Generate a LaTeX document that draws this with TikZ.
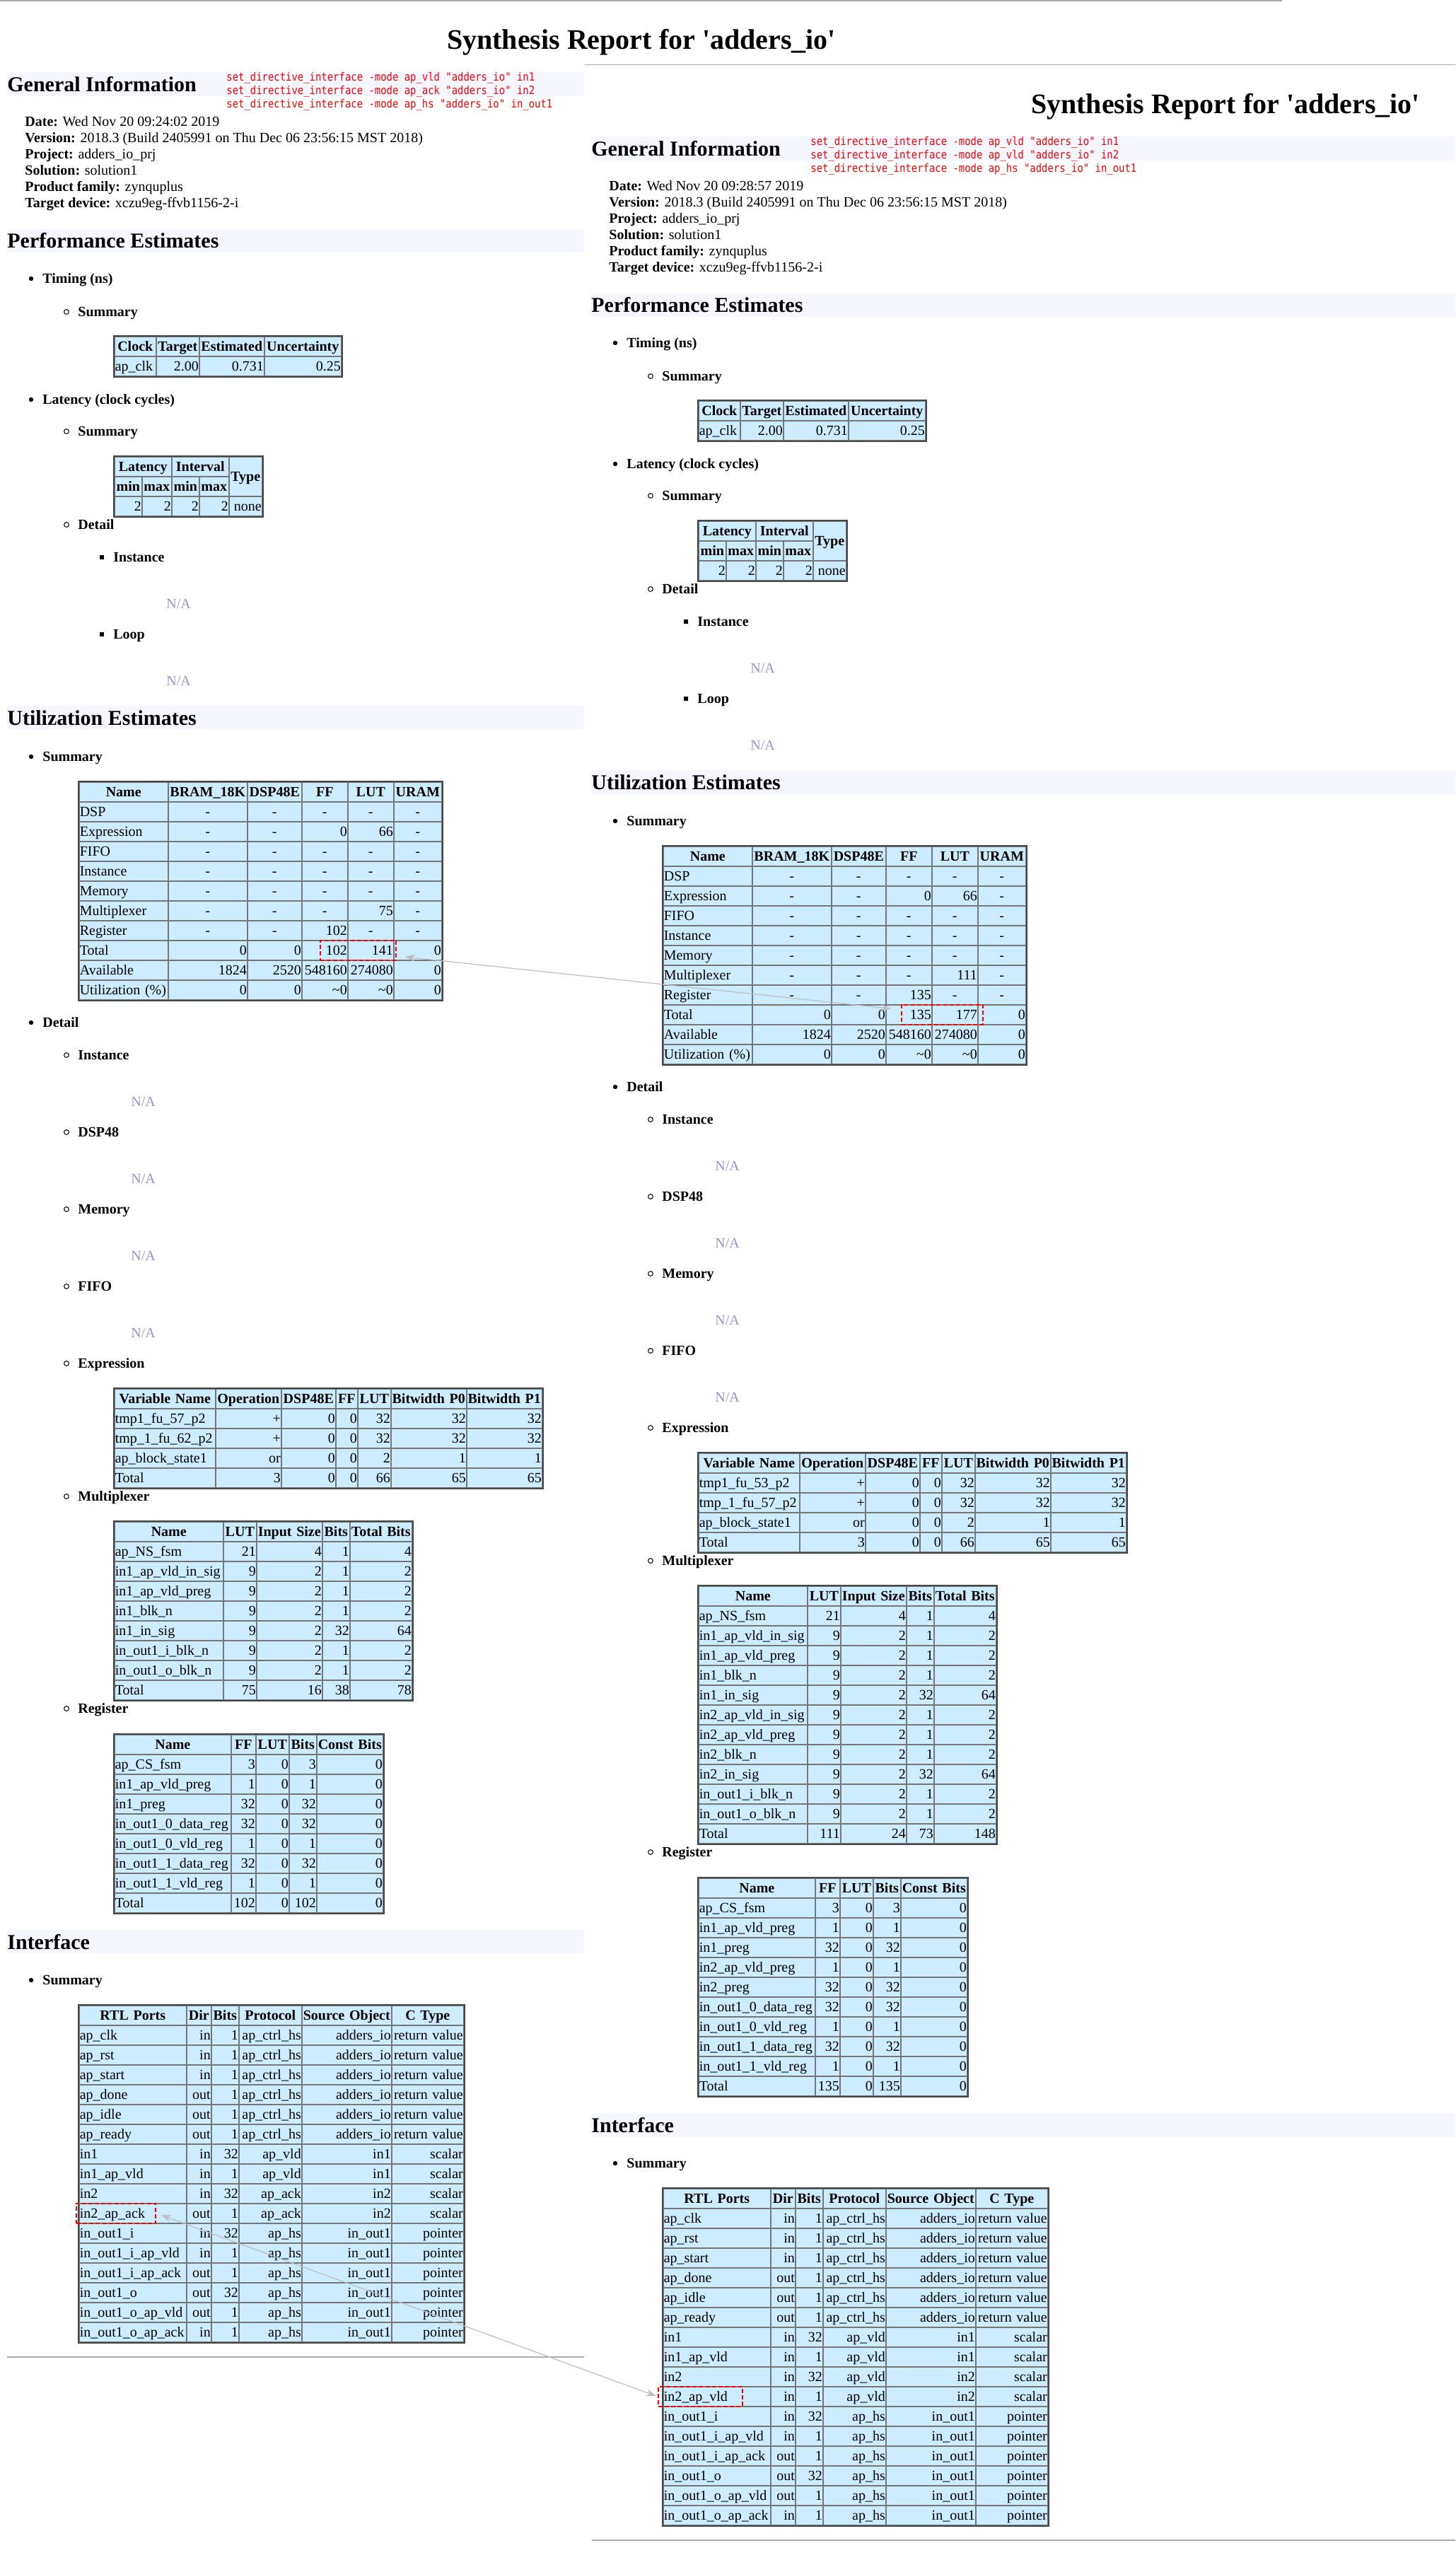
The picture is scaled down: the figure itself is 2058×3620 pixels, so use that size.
\documentclass[tikz,border=0pt]{standalone}
\usepackage{fontspec}
\setmainfont{Liberation Serif}
\newfontfamily\dirfont{DejaVu Sans Mono}[FakeStretch=0.87]
\usetikzlibrary{matrix,fit,arrows.meta}

\definecolor{cellfill}{RGB}{204,236,255}
\definecolor{cellline}{RGB}{118,118,118}
\definecolor{frameline}{RGB}{70,70,70}
\definecolor{bandfill}{RGB}{245,246,255}
\definecolor{nagray}{RGB}{150,150,205}
\definecolor{rulegray}{RGB}{172,172,172}
\definecolor{linkgray}{RGB}{190,190,190}

\tikzset{cw/.style={nodes={text width=#1}},
  lcw/.style={nodes={text width=#1,align=left}},
  utilcols/.style={column 1/.style={lcw=62pt},column 2/.style={cw=55pt},column 3/.style={cw=37.5pt},
    column 4/.style={cw=31.5pt},column 5/.style={cw=31.5pt},column 6/.style={cw=33pt}},
  exprcols/.style={column 1/.style={lcw=70.5pt},column 2/.style={cw=45.5pt},column 3/.style={cw=37.5pt},
    column 4/.style={cw=14.5pt},column 5/.style={cw=22.5pt},column 6/.style={cw=52.5pt},column 7/.style={cw=52.5pt}},
  muxcols/.style={column 1/.style={lcw=76pt},column 2/.style={cw=22.5pt},column 3/.style={cw=45.5pt},
    column 4/.style={cw=18.5pt},column 5/.style={cw=43pt}},
  regcols/.style={column 1/.style={lcw=81.5pt},column 2/.style={cw=16.5pt},column 3/.style={cw=22.5pt},
    column 4/.style={cw=18.5pt},column 5/.style={cw=46pt}},
  intfcols/.style={column 1/.style={lcw=75pt},column 2/.style={cw=16.5pt},column 3/.style={cw=18.5pt},
    column 4/.style={cw=43.5pt},column 5/.style={cw=62.5pt},column 6/.style={cw=50pt}}}

% bullet style, name, text x, baseline y, label
\newcommand\repitem[5]{%
  \node[#1] (#2m) at (#3-16,#4-6) {};
  \node[lbl] (#2) at (#3,#4) {#5};}
\newcommand\dsh{\makebox[\linewidth]{-}}

\newcommand\geninfo[2]{%
  \foreach \lab/\val [count=\n] in {Date:/#2,
      Version:/2018.3 (Build 2405991 on Thu Dec 06 23:56:15 MST 2018),
      Project:/adders\_io\_prj, Solution:/solution1,
      Product family:/zynquplus, Target device:/xczu9eg-ffvb1156-2-i}
    \node[txt] (#1info\n) at (35,155+23*\n) {\textbf{\lab} \val};}

\newcommand\perfpart[1]{%
  \fill[bandfill] (10,324) rectangle (1803,357);
  \node[sechead] (#1pe) at (10,350) {Performance Estimates};
  \repitem{bdot}{#1ptim}{60}{400}{Timing (ns)}
  \repitem{bring}{#1ptsum}{110}{447}{Summary}
  \matrix[tbl,ampersand replacement=\&,column 1/.style={lcw=28.5pt},column 2/.style={cw=29.5pt},
    column 3/.style={cw=45pt},column 4/.style={cw=53.5pt}] (#1tim) at (161,475) {
    Clock \& Target \& Estimated \& Uncertainty\\
    ap\_clk \& 2.00 \& 0.731 \& 0.25\\
  };
  \draw[tabframe] (#1tim.north west) rectangle (#1tim.south east);
  \repitem{bdot}{#1plat}{60}{571}{Latency (clock cycles)}
  \repitem{bring}{#1plsum}{110}{616}{Summary}
  \matrix[tbl,ampersand replacement=\&,row 2/.style={nodes={font=\bfseries,align=center}},
    column 1/.style={cw=18.5pt},column 2/.style={cw=20pt},column 3/.style={cw=18.5pt},
    column 4/.style={cw=20pt},column 5/.style={cw=22.5pt}] (#1lat) at (161,645) {
    \& \& \& \& \\
    min \& max \& min \& max \& \\
    2 \& 2 \& 2 \& 2 \& none\\
  };
  \node[spancell,minimum width=40.5pt] (#1latL) at (#1lat-1-1.north west) {Latency};
  \node[spancell,minimum width=40.5pt] (#1latI) at (#1lat-1-3.north west) {Interval};
  \node[spancell,minimum width=23.5pt,minimum height=28pt] (#1latT) at (#1lat-1-5.north west) {Type};
  \draw[tabframe] (#1lat.north west) rectangle (#1lat.south east);
  \repitem{bring}{#1pdet}{110}{748}{Detail}
  \foreach \s/\y in {Instance/794,Loop/903}{%
    \repitem{bsq}{#1p\s}{160}{\y}{\s}
    \node[natext] (#1p\s-na) at (235,\y+66) {N/A};}}

\newcommand\utildetail[1]{%
  \repitem{bdot}{#1udet}{60}{1452}{Detail}
  \foreach \s/\y in {Instance/1498,DSP48/1607,Memory/1716,FIFO/1825}{%
    \repitem{bring}{#1u\s}{110}{\y}{\s}
    \node[natext] (#1u\s-na) at (185,\y+66) {N/A};}
  \repitem{bring}{#1uexpr}{110}{1934}{Expression}}

\begin{document}
\begin{tikzpicture}[x=0.5pt,y=-0.5pt]
\tikzstyle{txt}=[anchor=base west,inner sep=0pt]
\tikzstyle{lbl}=[txt,font=\bfseries]
\tikzstyle{sechead}=[txt,font=\fontsize{15}{18}\selectfont\bfseries]
\tikzstyle{reptitle}=[anchor=base,inner sep=0pt,font=\fontsize{20}{24}\selectfont\bfseries]
\tikzstyle{directive}=[txt,text=red,font=\dirfont\fontsize{8}{9}\selectfont]
\tikzstyle{natext}=[txt,text=nagray]
\tikzstyle{bdot}=[circle,fill,inner sep=0pt,minimum size=3.2pt]
\tikzstyle{bring}=[circle,draw,line width=0.5pt,inner sep=0pt,minimum size=3.4pt]
\tikzstyle{bsq}=[rectangle,fill,inner sep=0pt,minimum size=3.4pt]
\tikzstyle{tcell}=[draw=cellline,fill=cellfill,line width=0.8pt,inner xsep=0.5pt,inner ysep=0pt,
  outer sep=0pt,minimum height=14pt,text height=8pt,text depth=1.6pt,align=right]
\tikzstyle{tbl}=[matrix of nodes,nodes in empty cells,anchor=north west,inner sep=0pt,outer sep=0pt,
  row sep=-0.8pt,column sep=-0.8pt,nodes={tcell},row 1/.style={nodes={font=\bfseries,align=center}}]
\tikzstyle{spancell}=[tcell,inner sep=0pt,font=\bfseries,align=center,anchor=north west]
\tikzstyle{tabframe}=[draw=frameline,line width=1pt]
\tikzstyle{redbox}=[draw=red,dash pattern=on 3pt off 1.6pt,line width=1pt,inner sep=0pt]
\tikzstyle{link}=[draw=linkgray,line width=0.6pt,>={Stealth[length=7pt,width=5pt]},<->]
\tikzstyle{hrule}=[draw=rulegray,line width=0.6pt]

\useasboundingbox (0,0) rectangle (2058,3620);
\clip (0,0) rectangle (2058,3620);
\fill[white] (0,0) rectangle (2058,3620);

% ---- first report (in2 as ap_ack)
\draw[hrule] (0,1) -- (1813,1);
\node[reptitle] (ltitle) at (907,69) {Synthesis Report for \textquotesingle adders\_io\textquotesingle};
\fill[bandfill] (10,102) rectangle (1803,136);
\node[sechead] (lgi) at (10,129) {General Information};
\node[directive] (ldir1) at (320,114) {set\_directive\_interface -mode ap\_vld "adders\_io" in1};
\node[directive] (ldir2) at (320,133) {set\_directive\_interface -mode ap\_ack "adders\_io" in2};
\node[directive] (ldir3) at (320,152) {set\_directive\_interface -mode ap\_hs "adders\_io" in\_out1};
\geninfo{l}{Wed Nov 20 09:24:02 2019}
\perfpart{l}
\fill[bandfill] (10,998) rectangle (1803,1032);
\node[sechead] (lue) at (10,1025) {Utilization Estimates};
\repitem{bdot}{lusum}{60}{1076}{Summary}
\matrix[tbl,utilcols] (lutil) at (111,1105) {
Name & BRAM\_18K & DSP48E & FF & LUT & URAM\\
DSP & \dsh & \dsh & \dsh & \dsh & \dsh\\
Expression & \dsh & \dsh & 0 & 66 & \dsh\\
FIFO & \dsh & \dsh & \dsh & \dsh & \dsh\\
Instance & \dsh & \dsh & \dsh & \dsh & \dsh\\
Memory & \dsh & \dsh & \dsh & \dsh & \dsh\\
Multiplexer & \dsh & \dsh & \dsh & 75 & \dsh\\
Register & \dsh & \dsh & 102 & \dsh & \dsh\\
Total & 0 & 0 & 102 & 141 & 0\\
Available & 1824 & 2520 & 548160 & 274080 & 0\\
Utilization~(\%) & 0 & 0 & \textasciitilde0 & \textasciitilde0 & 0\\
};
\draw[tabframe] (lutil.north west) rectangle (lutil.south east);
\utildetail{l}
\matrix[tbl,exprcols] (lexpr) at (161,1963) {
Variable~Name & Operation & DSP48E & FF & LUT & Bitwidth~P0 & Bitwidth~P1\\
tmp1\_fu\_57\_p2 & + & 0 & 0 & 32 & 32 & 32\\
tmp\_1\_fu\_62\_p2 & + & 0 & 0 & 32 & 32 & 32\\
ap\_block\_state1 & or & 0 & 0 & 2 & 1 & 1\\
Total & 3 & 0 & 0 & 66 & 65 & 65\\
};
\draw[tabframe] (lexpr.north west) rectangle (lexpr.south east);
\repitem{bring}{lmuxl}{110}{2122}{Multiplexer}
\matrix[tbl,muxcols] (lmux) at (161,2151) {
Name & LUT & Input~Size & Bits & Total~Bits\\
ap\_NS\_fsm & 21 & 4 & 1 & 4\\
in1\_ap\_vld\_in\_sig & 9 & 2 & 1 & 2\\
in1\_ap\_vld\_preg & 9 & 2 & 1 & 2\\
in1\_blk\_n & 9 & 2 & 1 & 2\\
in1\_in\_sig & 9 & 2 & 32 & 64\\
in\_out1\_i\_blk\_n & 9 & 2 & 1 & 2\\
in\_out1\_o\_blk\_n & 9 & 2 & 1 & 2\\
Total & 75 & 16 & 38 & 78\\
};
\draw[tabframe] (lmux.north west) rectangle (lmux.south east);
\repitem{bring}{lregl}{110}{2422}{Register}
\matrix[tbl,regcols] (lreg) at (161,2452) {
Name & FF & LUT & Bits & Const~Bits\\
ap\_CS\_fsm & 3 & 0 & 3 & 0\\
in1\_ap\_vld\_preg & 1 & 0 & 1 & 0\\
in1\_preg & 32 & 0 & 32 & 0\\
in\_out1\_0\_data\_reg & 32 & 0 & 32 & 0\\
in\_out1\_0\_vld\_reg & 1 & 0 & 1 & 0\\
in\_out1\_1\_data\_reg & 32 & 0 & 32 & 0\\
in\_out1\_1\_vld\_reg & 1 & 0 & 1 & 0\\
Total & 102 & 0 & 102 & 0\\
};
\draw[tabframe] (lreg.north west) rectangle (lreg.south east);
\fill[bandfill] (10,2729) rectangle (1803,2763);
\node[sechead] (lif) at (10,2756) {Interface};
\repitem{bdot}{lisum}{60}{2806}{Summary}
\matrix[tbl,intfcols] (lintf) at (111,2835) {
RTL~Ports & Dir & Bits & Protocol & Source~Object & C~Type\\
ap\_clk & in & 1 & ap\_ctrl\_hs & adders\_io & return~value\\
ap\_rst & in & 1 & ap\_ctrl\_hs & adders\_io & return~value\\
ap\_start & in & 1 & ap\_ctrl\_hs & adders\_io & return~value\\
ap\_done & out & 1 & ap\_ctrl\_hs & adders\_io & return~value\\
ap\_idle & out & 1 & ap\_ctrl\_hs & adders\_io & return~value\\
ap\_ready & out & 1 & ap\_ctrl\_hs & adders\_io & return~value\\
in1 & in & 32 & ap\_vld & in1 & scalar\\
in1\_ap\_vld & in & 1 & ap\_vld & in1 & scalar\\
in2 & in & 32 & ap\_ack & in2 & scalar\\
in2\_ap\_ack & out & 1 & ap\_ack & in2 & scalar\\
in\_out1\_i & in & 32 & ap\_hs & in\_out1 & pointer\\
in\_out1\_i\_ap\_vld & in & 1 & ap\_hs & in\_out1 & pointer\\
in\_out1\_i\_ap\_ack & out & 1 & ap\_hs & in\_out1 & pointer\\
in\_out1\_o & out & 32 & ap\_hs & in\_out1 & pointer\\
in\_out1\_o\_ap\_vld & out & 1 & ap\_hs & in\_out1 & pointer\\
in\_out1\_o\_ap\_ack & in & 1 & ap\_hs & in\_out1 & pointer\\
};
\draw[tabframe] (lintf.north west) rectangle (lintf.south east);
\draw[hrule] (10,3333) -- (1803,3333);

% ---- second report (in2 as ap_vld), laid over the first
\begin{scope}[shift={(826,91)}]
\fill[white] (0,-3) rectangle (1300,3600);
\draw[hrule] (1,0.5) -- (1813,0.5);
\node[reptitle] (rtitle) at (907,69) {Synthesis Report for \textquotesingle adders\_io\textquotesingle};
\fill[bandfill] (10,102) rectangle (1803,136);
\node[sechead] (rgi) at (10,129) {General Information};
\node[directive] (rdir1) at (320,114) {set\_directive\_interface -mode ap\_vld "adders\_io" in1};
\node[directive] (rdir2) at (320,133) {set\_directive\_interface -mode ap\_vld "adders\_io" in2};
\node[directive] (rdir3) at (320,152) {set\_directive\_interface -mode ap\_hs "adders\_io" in\_out1};
\geninfo{r}{Wed Nov 20 09:28:57 2019}
\perfpart{r}
\fill[bandfill] (10,998) rectangle (1803,1032);
\node[sechead] (rue) at (10,1025) {Utilization Estimates};
\repitem{bdot}{rusum}{60}{1076}{Summary}
\matrix[tbl,utilcols] (rutil) at (111,1105) {
Name & BRAM\_18K & DSP48E & FF & LUT & URAM\\
DSP & \dsh & \dsh & \dsh & \dsh & \dsh\\
Expression & \dsh & \dsh & 0 & 66 & \dsh\\
FIFO & \dsh & \dsh & \dsh & \dsh & \dsh\\
Instance & \dsh & \dsh & \dsh & \dsh & \dsh\\
Memory & \dsh & \dsh & \dsh & \dsh & \dsh\\
Multiplexer & \dsh & \dsh & \dsh & 111 & \dsh\\
Register & \dsh & \dsh & 135 & \dsh & \dsh\\
Total & 0 & 0 & 135 & 177 & 0\\
Available & 1824 & 2520 & 548160 & 274080 & 0\\
Utilization~(\%) & 0 & 0 & \textasciitilde0 & \textasciitilde0 & 0\\
};
\draw[tabframe] (rutil.north west) rectangle (rutil.south east);
\utildetail{r}
\matrix[tbl,exprcols] (rexpr) at (161,1963) {
Variable~Name & Operation & DSP48E & FF & LUT & Bitwidth~P0 & Bitwidth~P1\\
tmp1\_fu\_53\_p2 & + & 0 & 0 & 32 & 32 & 32\\
tmp\_1\_fu\_57\_p2 & + & 0 & 0 & 32 & 32 & 32\\
ap\_block\_state1 & or & 0 & 0 & 2 & 1 & 1\\
Total & 3 & 0 & 0 & 66 & 65 & 65\\
};
\draw[tabframe] (rexpr.north west) rectangle (rexpr.south east);
\repitem{bring}{rmuxl}{110}{2122}{Multiplexer}
\matrix[tbl,muxcols] (rmux) at (161,2151) {
Name & LUT & Input~Size & Bits & Total~Bits\\
ap\_NS\_fsm & 21 & 4 & 1 & 4\\
in1\_ap\_vld\_in\_sig & 9 & 2 & 1 & 2\\
in1\_ap\_vld\_preg & 9 & 2 & 1 & 2\\
in1\_blk\_n & 9 & 2 & 1 & 2\\
in1\_in\_sig & 9 & 2 & 32 & 64\\
in2\_ap\_vld\_in\_sig & 9 & 2 & 1 & 2\\
in2\_ap\_vld\_preg & 9 & 2 & 1 & 2\\
in2\_blk\_n & 9 & 2 & 1 & 2\\
in2\_in\_sig & 9 & 2 & 32 & 64\\
in\_out1\_i\_blk\_n & 9 & 2 & 1 & 2\\
in\_out1\_o\_blk\_n & 9 & 2 & 1 & 2\\
Total & 111 & 24 & 73 & 148\\
};
\draw[tabframe] (rmux.north west) rectangle (rmux.south east);
\begin{scope}[shift={(0,112)}]
\repitem{bring}{rregl}{110}{2422}{Register}
\matrix[tbl,regcols] (rreg) at (161,2452) {
Name & FF & LUT & Bits & Const~Bits\\
ap\_CS\_fsm & 3 & 0 & 3 & 0\\
in1\_ap\_vld\_preg & 1 & 0 & 1 & 0\\
in1\_preg & 32 & 0 & 32 & 0\\
in2\_ap\_vld\_preg & 1 & 0 & 1 & 0\\
in2\_preg & 32 & 0 & 32 & 0\\
in\_out1\_0\_data\_reg & 32 & 0 & 32 & 0\\
in\_out1\_0\_vld\_reg & 1 & 0 & 1 & 0\\
in\_out1\_1\_data\_reg & 32 & 0 & 32 & 0\\
in\_out1\_1\_vld\_reg & 1 & 0 & 1 & 0\\
Total & 135 & 0 & 135 & 0\\
};
\draw[tabframe] (rreg.north west) rectangle (rreg.south east);
\end{scope}
\begin{scope}[shift={(0,168)}]
\fill[bandfill] (10,2729) rectangle (1803,2763);
\node[sechead] (rif) at (10,2756) {Interface};
\repitem{bdot}{risum}{60}{2806}{Summary}
\matrix[tbl,intfcols] (rintf) at (111,2835) {
RTL~Ports & Dir & Bits & Protocol & Source~Object & C~Type\\
ap\_clk & in & 1 & ap\_ctrl\_hs & adders\_io & return~value\\
ap\_rst & in & 1 & ap\_ctrl\_hs & adders\_io & return~value\\
ap\_start & in & 1 & ap\_ctrl\_hs & adders\_io & return~value\\
ap\_done & out & 1 & ap\_ctrl\_hs & adders\_io & return~value\\
ap\_idle & out & 1 & ap\_ctrl\_hs & adders\_io & return~value\\
ap\_ready & out & 1 & ap\_ctrl\_hs & adders\_io & return~value\\
in1 & in & 32 & ap\_vld & in1 & scalar\\
in1\_ap\_vld & in & 1 & ap\_vld & in1 & scalar\\
in2 & in & 32 & ap\_vld & in2 & scalar\\
in2\_ap\_vld & in & 1 & ap\_vld & in2 & scalar\\
in\_out1\_i & in & 32 & ap\_hs & in\_out1 & pointer\\
in\_out1\_i\_ap\_vld & in & 1 & ap\_hs & in\_out1 & pointer\\
in\_out1\_i\_ap\_ack & out & 1 & ap\_hs & in\_out1 & pointer\\
in\_out1\_o & out & 32 & ap\_hs & in\_out1 & pointer\\
in\_out1\_o\_ap\_vld & out & 1 & ap\_hs & in\_out1 & pointer\\
in\_out1\_o\_ap\_ack & in & 1 & ap\_hs & in\_out1 & pointer\\
};
\draw[tabframe] (rintf.north west) rectangle (rintf.south east);
\draw[hrule] (11,3333) -- (1803,3333);
\end{scope}
\end{scope}

% ---- marked cells and the links between the two runs
\node[redbox,fit={([xshift=13pt]lutil-9-4.north west) ([xshift=1.5pt]lutil-9-5.south east)}] (lsum) {};
\node[redbox,fit={([xshift=11pt]rutil-9-4.north west) ([xshift=3.5pt]rutil-9-5.south east)}] (rsum) {};
\node[redbox,fit={([xshift=-2pt]lintf-11-1.north west) ([xshift=-21.75pt]lintf-11-1.south east)}] (lack) {};
\node[redbox,fit={([xshift=-3.5pt]rintf-11-1.north west) ([xshift=-20pt]rintf-11-1.south east)}] (rvld) {};
\draw[link,shorten <=6pt,shorten >=7pt] ([yshift=-4pt]lsum.east) -- ([yshift=3.5pt]rsum.west);
\draw[link,shorten <=3.5pt,shorten >=1pt] (lack.east) -- (rvld.west);
\end{tikzpicture}
\end{document}
